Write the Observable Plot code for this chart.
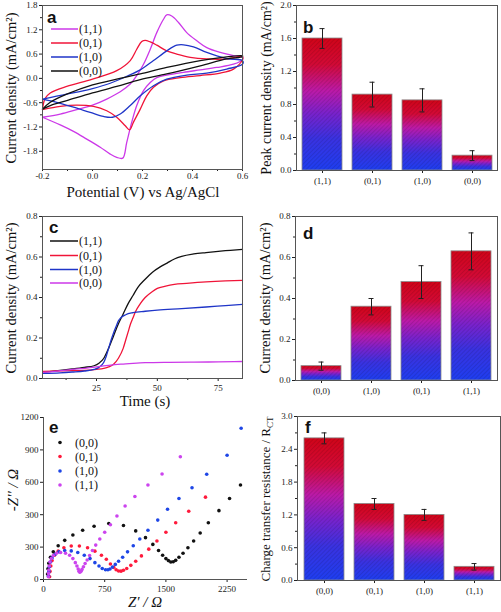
<!DOCTYPE html>
<html><head><meta charset="utf-8">
<script src="https://cdn.jsdelivr.net/npm/d3@7"></script>
<script src="https://cdn.jsdelivr.net/npm/@observablehq/plot@0.6"></script>
<style>
body{margin:0;background:#fff;}
#root{position:relative;width:501px;height:612px;overflow:hidden;}
#root svg text{font-family:"Liberation Serif","Times New Roman",serif;}
</style></head><body><div id="root"></div>
<script>
// ---------- DATA ----------
// Panel a: cyclic voltammograms [potential V, current density mA/cm2]
const cv11 = [[-0.2,-0.96],[-0.129,-0.88],[-0.063,-0.77],[0.0,-0.66],[0.057,-0.51],[0.111,-0.33],[0.151,-0.14],[0.177,0.07],[0.204,0.35],[0.231,0.72],[0.257,1.13],[0.284,1.46],[0.297,1.57],[0.317,1.54],[0.344,1.38],[0.377,1.13],[0.417,0.93],[0.457,0.76],[0.511,0.64],[0.564,0.56],[0.6,0.52],
  [0.6,0.46],[0.564,0.35],[0.497,0.27],[0.431,0.21],[0.364,0.15],[0.297,0.08],[0.257,0.02],[0.231,-0.10],[0.204,-0.30],[0.177,-0.67],[0.157,-1.08],[0.137,-1.58],[0.121,-1.97],[0.097,-1.95],[0.071,-1.87],[0.031,-1.70],[-0.023,-1.50],[-0.076,-1.31],[-0.129,-1.15],[-0.2,-0.96]];
const cv01 = [[-0.2,-0.77],[-0.19,-0.5],[-0.169,-0.36],[-0.103,-0.2],[0.0,-0.02],[0.097,0.19],[0.151,0.44],[0.177,0.72],[0.197,0.91],[0.211,0.94],[0.231,0.90],[0.257,0.82],[0.297,0.68],[0.337,0.60],[0.391,0.52],[0.457,0.48],[0.537,0.48],[0.6,0.54],
  [0.6,0.46],[0.564,0.23],[0.511,0.13],[0.431,0.07],[0.351,0.02],[0.284,-0.06],[0.244,-0.22],[0.217,-0.43],[0.191,-0.76],[0.164,-1.08],[0.148,-1.27],[0.131,-1.17],[0.097,-0.96],[0.057,-0.80],[0.004,-0.69],[-0.063,-0.66],[-0.129,-0.69],[-0.2,-0.77]];
const cv10 = [[-0.2,-0.51],[-0.103,-0.39],[0.0,-0.25],[0.071,-0.12],[0.137,0.05],[0.191,0.21],[0.244,0.44],[0.297,0.68],[0.337,0.82],[0.364,0.83],[0.404,0.78],[0.457,0.64],[0.537,0.49],[0.6,0.44],
  [0.6,0.35],[0.537,0.23],[0.457,0.13],[0.377,0.08],[0.297,-0.02],[0.244,-0.18],[0.191,-0.43],[0.151,-0.67],[0.111,-0.88],[0.08,-0.96],[0.044,-0.94],[-0.009,-0.84],[-0.076,-0.71],[-0.143,-0.59],[-0.2,-0.51]];
const cv00 = [[-0.2,-0.76],[-0.169,-0.59],[-0.103,-0.39],[0.0,-0.16],[0.097,-0.02],[0.191,0.11],[0.297,0.27],[0.431,0.44],[0.537,0.53],[0.6,0.56],
  [0.6,0.54],[0.537,0.48],[0.431,0.31],[0.297,0.11],[0.191,-0.03],[0.097,-0.20],[0.0,-0.36],[-0.103,-0.55],[-0.169,-0.67],[-0.2,-0.76]];

// Panel b: peak current density
const catsB = ["(1,1)","(0,1)","(1,0)","(0,0)"];
const valsB = [1.60, 0.92, 0.85, 0.18];
const errsB = [0.12, 0.15, 0.14, 0.06];

// Panel c: chronoamperometry [time s, current density mA/cm2]
const ca11 = [[3,0.03],[10,0.04],[15,0.047],[20,0.055],[24,0.063],[26,0.075],[28,0.1],[30,0.15],[32,0.21],[34,0.27],[36,0.32],[38,0.37],[40,0.41],[42,0.45],[45,0.49],[48,0.525],[51,0.55],[54,0.57],[57,0.59],[60,0.603],[65,0.615],[70,0.622],[75,0.628],[80,0.633],[85,0.638]];
const ca01 = [[3,0.035],[10,0.038],[20,0.04],[25,0.045],[28,0.05],[30,0.057],[32,0.07],[34,0.1],[36,0.15],[37,0.19],[38,0.23],[39,0.27],[40,0.3],[41,0.33],[43,0.37],[45,0.4],[48,0.43],[50,0.445],[53,0.455],[57,0.465],[62,0.47],[70,0.477],[78,0.482],[85,0.485]];
const ca10 = [[3,0.025],[10,0.028],[15,0.032],[20,0.037],[24,0.045],[26,0.055],[28,0.08],[29,0.11],[30,0.15],[31,0.19],[32,0.225],[33,0.255],[34,0.285],[35,0.3],[37,0.315],[40,0.325],[45,0.332],[50,0.338],[60,0.345],[70,0.353],[78,0.36],[85,0.366]];
const ca00 = [[3,0.03],[8,0.035],[15,0.045],[20,0.05],[25,0.057],[30,0.065],[35,0.071],[40,0.075],[45,0.078],[55,0.08],[65,0.081],[75,0.082],[85,0.084]];

// Panel d: current density bars
const catsD = ["(0,0)","(1,0)","(0,1)","(1,1)"];
const valsD = [0.07, 0.36, 0.48, 0.63];
const errsD = [0.02, 0.04, 0.08, 0.09];

// Panel e: Nyquist plots [Z' ohm, -Z'' on the drawn axis]
const ny00 = [[50,40],[55,80],[65,120],[85,165],[120,205],[180,250],[260,290],[360,330],[480,365],[620,395],[800,415],[980,400],[1130,360],[1250,310],[1340,260],[1410,215],[1460,180],[1500,155],[1530,140],[1560,130],[1590,132],[1620,142],[1660,165],[1710,195],[1770,235],[1840,285],[1920,345],[2020,420],[2150,510],[2280,600],[2414,700]];
const ny01 = [[75,20],[80,60],[90,100],[105,140],[135,180],[180,210],[250,235],[340,248],[440,248],[540,235],[630,210],[710,180],[770,150],[820,115],[860,90],[890,72],[920,63],[950,62],[980,68],[1020,82],[1070,105],[1130,135],[1200,175],[1290,225],[1390,285],[1500,350],[1620,420],[1780,505],[1985,610]];
const ny10 = [[62,25],[66,60],[72,95],[85,130],[105,160],[140,185],[190,205],[260,215],[340,212],[420,200],[500,180],[570,155],[630,125],[680,100],[720,82],[760,72],[790,72],[815,78],[845,92],[880,112],[920,135],[970,165],[1030,205],[1100,250],[1180,300],[1280,365],[1400,440],[1520,520],[1660,600],[1820,680],[2000,780],[2250,920],[2422,1120]];
const ny11 = [[60,20],[62,45],[65,70],[70,100],[80,130],[95,155],[120,178],[160,195],[210,200],[270,195],[320,180],[360,155],[390,125],[410,100],[425,78],[435,62],[442,55],[450,56],[460,62],[472,75],[490,95],[510,118],[535,145],[565,178],[600,215],[640,255],[690,300],[750,350],[820,405],[900,470],[1000,545],[1120,615],[1280,700],[1453,781],[1677,909]];
const eTickLabels = ["0","300","300","600","900","1200"];

// Panel f: charge transfer resistance bars
const catsF = ["(0,0)","(0,1)","(1,0)","(1,1)"];
const valsF = [2.60, 1.40, 1.20, 0.25];
const errsF = [0.10, 0.10, 0.10, 0.06];

// ---------- STYLE ----------
const C = {mag:"#cc38e8", red:"#f01438", blue:"#1f35c8", black:"#111111"};
const serif = '"Liberation Serif","Times New Roman",serif';

const root = document.getElementById("root");
const defs = d3.select(root).append("svg").attr("width",0).attr("height",0).style("position","absolute").append("defs");
const g = defs.append("linearGradient").attr("id","gb").attr("x1",0).attr("y1",0).attr("x2",0).attr("y2",1);
[[0,"#d00418"],[0.2,"#d20a36"],[0.4,"#bc1aa8"],[0.57,"#7a22cc"],[0.76,"#3a32e0"],[1,"#1e3ef0"]].forEach(([o,c])=>g.append("stop").attr("offset",o).attr("stop-color",c));
const pat = defs.append("pattern").attr("id","hatch").attr("patternUnits","userSpaceOnUse").attr("width",3).attr("height",3).attr("patternTransform","rotate(45)");
pat.append("line").attr("x1",0).attr("y1",0).attr("x2",0).attr("y2",3).attr("stroke","rgba(0,0,0,0.22)").attr("stroke-width",1);

function place(p, left, top){
  p.style.position="absolute"; p.style.left=left+"px"; p.style.top=top+"px";
  d3.select(p).selectAll("text").attr("font-family", serif);
  root.appendChild(p);
}
const baseStyle = {fontFamily: serif, fontSize: "9px", color: "#222", background: "none", overflow: "visible"};
const toPts = arr => arr.map(([x,y])=>({x,y}));
const mids = t => t.slice(1).map((v,i)=>(v+t[i])/2);

// ---------- PANEL A ----------
{
  const yt = [-1.8,-1.2,-0.6,0,0.6,1.2,1.8], xt = [-0.2,0,0.2,0.4,0.6];
  const series = [[cv11,C.mag],[cv01,C.red],[cv10,C.blue],[cv00,C.black]];
  const p = Plot.plot({
    width: 250, height: 200, marginLeft: 42, marginRight: 8, marginTop: 5, marginBottom: 31,
    style: baseStyle,
    x: {domain: [-0.2, 0.6]}, y: {domain: [-2.25, 1.8]},
    marks: [
      Plot.axisY({ticks: yt, tickFormat: d=>d.toFixed(1), tickSize: 3, tickPadding: 2, label: null}),
      Plot.axisY({ticks: mids(yt), tickFormat: ()=>"", tickSize: 2, label: null}),
      Plot.axisX({ticks: xt, tickFormat: d=>d.toFixed(1), tickSize: 2, tickPadding: 1, label: null}),
      Plot.axisX({ticks: mids(xt), tickFormat: ()=>"", tickSize: 2, label: null}),
      ...series.map(([d,c])=>Plot.line(toPts(d), {x:"x", y:"y", stroke:c, strokeWidth:1.3, curve:"catmull-rom"})),
      Plot.frame({stroke:"#555"})
    ]
  });
  place(p, 0, 0);
}
// ---------- BAR PANELS ----------
function barPanel(cats, vals, errs, yDomain, yt, left, top, w, h, m){
  const data = cats.map((c,i)=>({c, v: vals[i], lo: vals[i]-errs[i], hi: vals[i]+errs[i]}));
  const p = Plot.plot({
    width: w, height: h, marginLeft: m[0], marginRight: m[1], marginTop: m[2], marginBottom: m[3],
    style: baseStyle,
    x: {type: "band", domain: cats, paddingInner: 0.2, paddingOuter: 0.1},
    y: {domain: yDomain},
    marks: [
      Plot.axisY({ticks: yt, tickFormat: d=>d.toFixed(1), tickSize: 3, tickPadding: 2, label: null}),
      Plot.axisY({ticks: mids(yt), tickFormat: ()=>"", tickSize: 2, label: null}),
      Plot.axisX({tickSize: 3, tickPadding: 4, label: null}),
      Plot.barY(data, {x:"c", y:"v", fill:"url(#gb)"}),
      Plot.barY(data, {x:"c", y:"v", fill:"url(#hatch)", stroke:"#8a8a8a", strokeWidth:0.8}),
      Plot.ruleX(data, {x:"c", y1:"lo", y2:"hi", stroke:"#222", strokeWidth:1}),
      Plot.tickY(data, {x:"c", y:"lo", stroke:"#222", insetLeft:17.5, insetRight:17.5}),
      Plot.tickY(data, {x:"c", y:"hi", stroke:"#222", insetLeft:17.5, insetRight:17.5}),
      Plot.frame({stroke:"#555"})
    ]
  });
  place(p, left, top);
}
barPanel(catsB, valsB, errsB, [0,2.0], [0,0.4,0.8,1.2,1.6,2.0], 250, 0, 251, 200, [46,4,5,30]);
barPanel(catsD, valsD, errsD, [0,0.8], [0,0.2,0.4,0.6,0.8], 250, 200, 251, 200, [45,4,16,20]);
barPanel(catsF, valsF, errsF, [0,3.0], [0,0.6,1.2,1.8,2.4,3.0], 250, 400, 251, 212, [47,1,16,32]);

// ---------- PANEL C ----------
{
  const series = [[ca11,C.black],[ca01,C.red],[ca10,C.blue],[ca00,C.mag]];
  const yt = [0,0.2,0.4,0.6,0.8], xt = [25,50,75];
  const p = Plot.plot({
    width: 250, height: 200, marginLeft: 42, marginRight: 8, marginTop: 16, marginBottom: 22,
    style: baseStyle,
    x: {domain: [2.8, 85]}, y: {domain: [0, 0.8]},
    marks: [
      Plot.axisY({ticks: yt, tickFormat: d=>d.toFixed(1), tickSize: 3, tickPadding: 2, label: null}),
      Plot.axisY({ticks: mids(yt), tickFormat: ()=>"", tickSize: 2, label: null}),
      Plot.axisX({ticks: xt, tickSize: 3, tickPadding: 3, label: null}),
      Plot.axisX({ticks: [12.5,37.5,62.5], tickFormat: ()=>"", tickSize: 2, label: null}),
      ...series.map(([d,c])=>Plot.line(toPts(d), {x:"x", y:"y", stroke:c, strokeWidth:1.3, curve:"monotone-x"})),
      Plot.frame({stroke:"#555"})
    ]
  });
  place(p, 0, 200);
}
// ---------- PANEL E ----------
{
  const series = [[ny00,C.black],[ny01,"#ff1a3c"],[ny10,"#1e46e6"],[ny11,"#cc44ee"]];
  const yt = [0,240,480,720,960,1200];
  const p = Plot.plot({
    width: 250, height: 212, marginLeft: 43, marginRight: 3, marginTop: 17, marginBottom: 33,
    style: baseStyle,
    x: {domain: [0, 2500]}, y: {domain: [0, 1200]},
    marks: [
      Plot.axisY({ticks: yt, tickFormat: (d,i)=>eTickLabels[i], tickSize: 3, tickPadding: 2, label: null}),
      Plot.axisX({ticks: [0,750,1500,2250], tickFormat: d=>String(d), tickSize: 3, tickPadding: 3, label: null}),
      Plot.ruleX([0], {stroke:"#555"}),
      Plot.ruleY([0], {stroke:"#555"}),
      ...series.map(([d,c])=>Plot.dot(toPts(d), {x:"x", y:"y", fill:c, r:1.8})),
    ]
  });
  place(p, 0, 400);
}
// ---------- OVERLAY TEXT / LEGENDS ----------
const ov = d3.select(root).append("svg").attr("width",501).attr("height",612)
  .style("position","absolute").style("left","0px").style("top","0px").style("pointer-events","none");
function t(x,y,s,o={}){
  const e = ov.append("text").attr("x",x).attr("y",y).text(s)
    .attr("font-size", o.size||12).attr("fill","#111")
    .attr("text-anchor", o.anchor||"start");
  if (o.sans) e.style("font-family",'"Liberation Sans",Arial,sans-serif');
  if (o.bold) e.attr("font-weight","bold");
  if (o.italic) e.attr("font-style","italic");
  if (o.rot) e.attr("transform",`rotate(-90,${x},${y})`);
  return e;
}
// panel letters
t(47,23,"a",{sans:1,bold:1,size:17});
t(303,33,"b",{sans:1,bold:1,size:17});
t(49,233,"c",{sans:1,bold:1,size:17});
t(303,239,"d",{sans:1,bold:1,size:17});
t(49,433,"e",{sans:1,bold:1,size:17});
t(305,433,"f",{sans:1,bold:1,size:17});
// axis titles
t(143,197,"Potential (V) vs Ag/AgCl",{size:15,anchor:"middle"});
t(16,88,"Current density (mA/cm²)",{size:14.5,anchor:"middle",rot:1});
t(271,88,"Peak current density (mA/cm²)",{size:14,anchor:"middle",rot:1});
t(145,406,"Time (s)",{size:15,anchor:"middle"});
t(16,298,"Current density (mA/cm²)",{size:14.5,anchor:"middle",rot:1});
t(270,298,"Current density (mA/cm²)",{size:14.5,anchor:"middle",rot:1});
t(145,607,"Z′ / Ω",{size:15,anchor:"middle",italic:1});
t(18,490,"-Z′′ / Ω",{size:15,anchor:"middle",italic:1,rot:1});
{
  const e = t(270,499,"Charge transfer resistance / R",{size:13,anchor:"middle",rot:1});
  e.append("tspan").attr("font-size",9).attr("dy",3).text("CT");
}
// legends
const legA = [["(1,1)",C.mag],["(0,1)",C.red],["(1,0)",C.blue],["(0,0)",C.black]];
const legAy = [29,43,57,71];
legA.forEach(([s,c],i)=>{ ov.append("line").attr("x1",51).attr("x2",78).attr("y1",legAy[i]).attr("y2",legAy[i]).attr("stroke",c).attr("stroke-width",1.5); t(79,legAy[i]+4,s,{size:12}); });
const legC = [["(1,1)",C.black],["(0,1)",C.red],["(1,0)",C.blue],["(0,0)",C.mag]];
const legCy = [241,255.5,269.5,283];
legC.forEach(([s,c],i)=>{ ov.append("line").attr("x1",50).attr("x2",78).attr("y1",legCy[i]).attr("y2",legCy[i]).attr("stroke",c).attr("stroke-width",1.5); t(79,legCy[i]+4,s,{size:12}); });
const legE = [["(0,0)",C.black],["(0,1)","#ff1a3c"],["(1,0)","#1e46e6"],["(1,1)","#cc44ee"]];
const legEy = [442.5,456.5,471,485];
legE.forEach(([s,c],i)=>{ ov.append("circle").attr("cx",60).attr("cy",legEy[i]).attr("r",1.8).attr("fill",c); t(75,legEy[i]+4,s,{size:12}); });
</script></body></html>
